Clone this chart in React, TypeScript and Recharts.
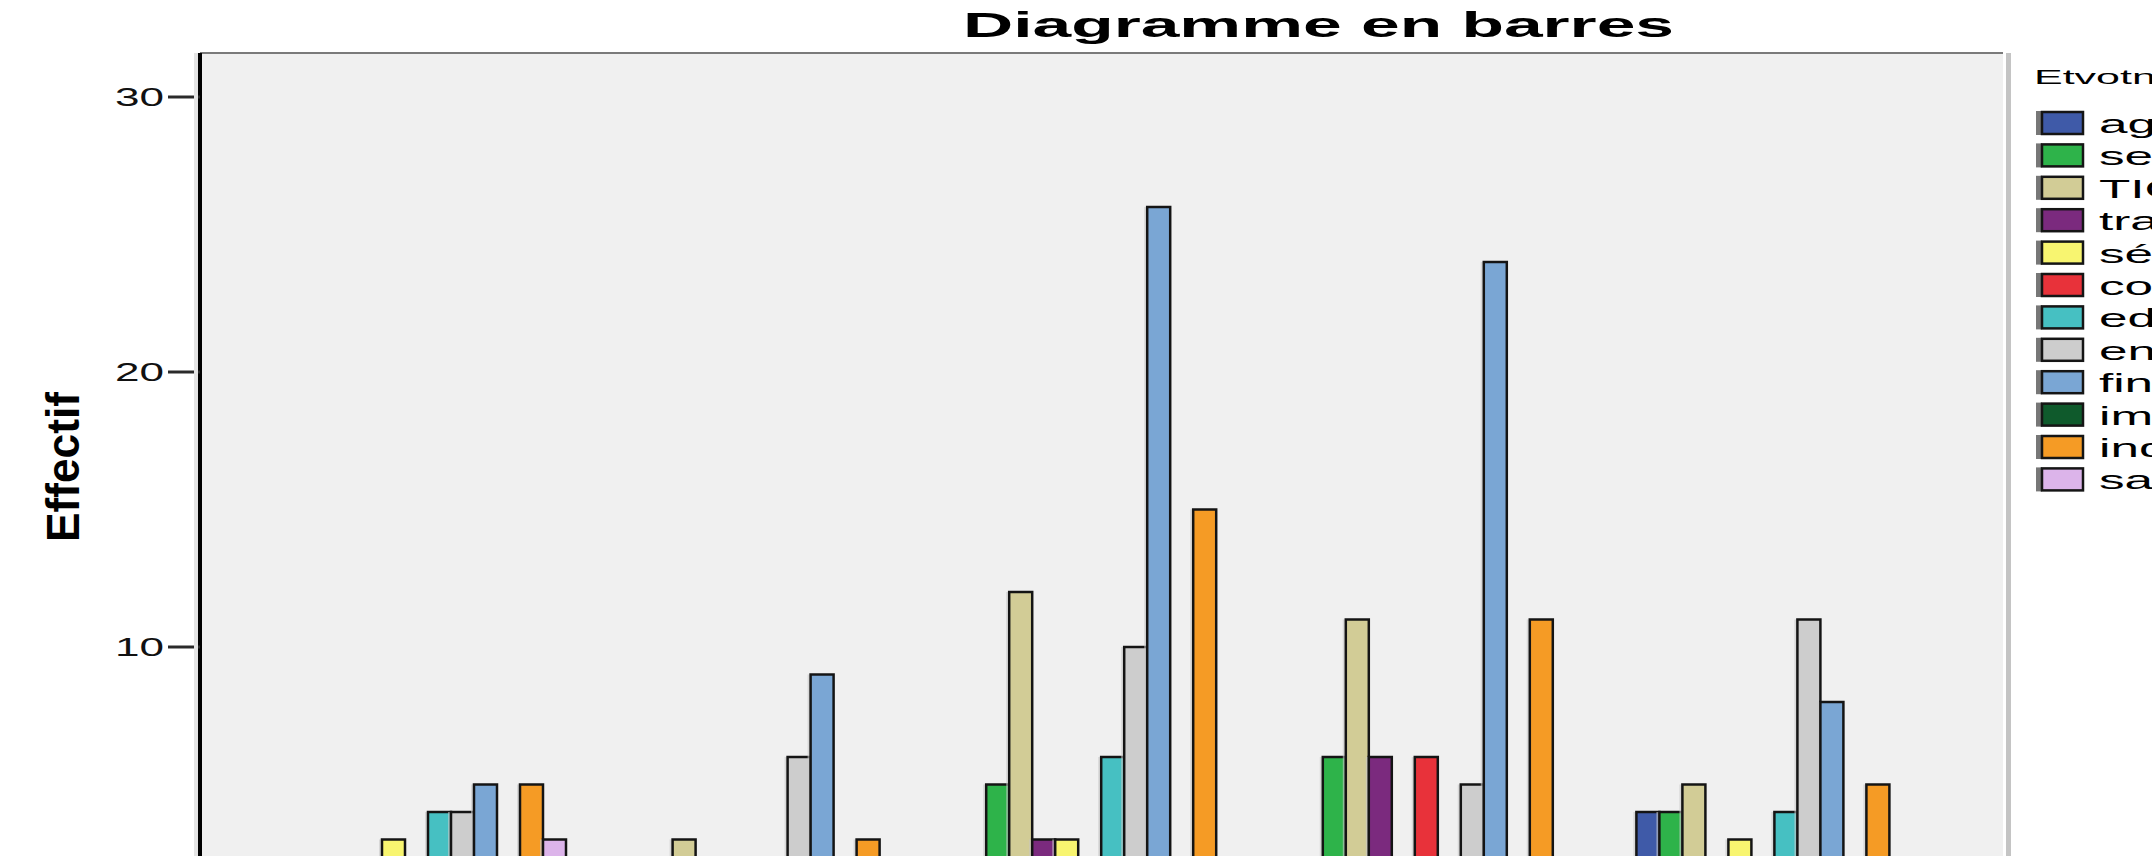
import { BarChart, Bar, XAxis, YAxis, CartesianGrid, ReferenceLine } from "recharts";

const categories = ["1", "2", "3", "4", "5"];

const seriesNames = [
  "agriculture",
  "services",
  "TIC",
  "transport",
  "sécurité",
  "commerce",
  "education",
  "energie",
  "finance",
  "immobilier",
  "industrie",
  "santé",
];

const seriesColors = [
  "#3f5aa8",
  "#2eb34a",
  "#d2cc96",
  "#7b2a7e",
  "#f8f570",
  "#e8323a",
  "#46c0c2",
  "#cdcdcd",
  "#7aa6d4",
  "#0f5a2c",
  "#f59b25",
  "#dcb4ea",
];

// effectifs par catégorie (valeurs sous 2.5 coupées dans l'image -> 0)
const agValues = [0, 0, 0, 0, 4];
const seValues = [0, 0, 5, 6, 4];
const ticValues = [0, 3, 12, 11, 5];
const traValues = [0, 0, 3, 6, 0];
const secValues = [3, 0, 3, 0, 3];
const coValues = [0, 0, 0, 6, 0];
const edValues = [4, 0, 6, 0, 4];
const enValues = [4, 6, 10, 5, 11];
const finValues = [5, 9, 26, 24, 8];
const immValues = [0, 0, 0, 0, 0];
const indValues = [5, 3, 15, 11, 5];
const saValues = [3, 0, 0, 0, 0];

const seriesValues = [
  agValues,
  seValues,
  ticValues,
  traValues,
  secValues,
  coValues,
  edValues,
  enValues,
  finValues,
  immValues,
  indValues,
  saValues,
];

const yTicks = [0, 10, 20, 30];
const Y_MAX = 31.6;

const data = categories.map((name, i) => {
  const row: Record<string, string | number> = { name };
  seriesValues.forEach((vals, s) => {
    row["s" + s] = vals[i];
  });
  return row;
});

const FONT = "'Liberation Sans', Arial, sans-serif";

function BevelBar(props: any) {
  const { x, y, width, height, fill } = props;
  if (!height || height <= 0) return null;
  return (
    <g>
      <rect x={x - 3} y={y} width={3} height={height} fill="#c8c8c8" opacity={0.6} />
      <rect
        x={x}
        y={y}
        width={width}
        height={height}
        fill={fill}
        stroke="#141414"
        strokeWidth={2.5}
      />
    </g>
  );
}

function YTick(props: any) {
  const { x, y, payload } = props;
  const label = String(payload.value);
  return (
    <text
      x={x}
      y={y + 9}
      textAnchor="end"
      fontFamily={FONT}
      fontSize={25}
      fill="#111"
      textLength={label.length * 24.5}
      lengthAdjust="spacingAndGlyphs"
    >
      {label}
    </text>
  );
}

export default function App() {
  return (
    <div
      style={{
        position: "fixed",
        left: 0,
        top: 0,
        width: 2152,
        height: 856,
        overflow: "hidden",
        background: "#fff",
      }}
    >
      <BarChart
        width={2152}
        height={1000}
        data={data}
        margin={{ top: 53, right: 149, bottom: 48, left: 100 }}
        barCategoryGap={30}
        barGap={0}
      >
        <CartesianGrid horizontal={false} vertical={false} fill="#f0f0f0" />
        <XAxis
          dataKey="name"
          padding={{ left: 60, right: 60 }}
          height={30}
          tickLine={false}
          axisLine={{ stroke: "#000", strokeWidth: 4 }}
          tick={false}
        />
        <YAxis
          domain={[0, Y_MAX]}
          ticks={yTicks}
          interval={0}
          width={100}
          tickSize={32}
          tickMargin={4}
          axisLine={{ stroke: "#000", strokeWidth: 4 }}
          tickLine={{ stroke: "#2a2a2a", strokeWidth: 3 }}
          tick={<YTick />}
          allowDataOverflow
        />
        <YAxis
          yAxisId="right"
          orientation="right"
          width={0}
          domain={[0, Y_MAX]}
          tick={false}
          tickLine={false}
          axisLine={{ stroke: "#444", strokeWidth: 3 }}
        />
        <ReferenceLine y={Y_MAX} stroke="#7a7a7a" strokeWidth={2} />
        {seriesNames.map((n, s) => (
          <Bar
            key={n}
            dataKey={"s" + s}
            name={n}
            fill={seriesColors[s]}
            shape={<BevelBar />}
            isAnimationActive={false}
          />
        ))}
      </BarChart>

      <svg
        width={2152}
        height={856}
        style={{ position: "absolute", left: 0, top: 0, pointerEvents: "none" }}
      >
        <rect x={2006} y={53} width={5} height={803} fill="#c4c4c4" />
        <rect x={194} y={53} width={4} height={803} fill="#e4e4e4" />
        <text
          x={963}
          y={37}
          fontFamily={FONT}
          fontWeight="bold"
          fontSize={35}
          fill="#000"
          textLength={711}
          lengthAdjust="spacingAndGlyphs"
        >
          Diagramme en barres
        </text>
        <text
          transform="translate(79, 467) rotate(-90)"
          textAnchor="middle"
          fontFamily={FONT}
          fontWeight="bold"
          fontSize={46}
          fill="#000"
          textLength={150}
          lengthAdjust="spacingAndGlyphs"
        >
          Effectif
        </text>
        <text
          transform="translate(2034, 84) scale(2.15, 1)"
          fontFamily={FONT}
          fontSize={20}
          fill="#000"
        >
          Etvotn
        </text>
        {seriesNames.map((n, s) => {
          const top = 111 + s * 32.4;
          return (
            <g key={n}>
              <rect x={2036} y={top} width={6} height={24} fill="#777" />
              <rect
                x={2042}
                y={top + 1}
                width={41}
                height={22}
                fill={seriesColors[s]}
                stroke="#151515"
                strokeWidth={2.5}
              />
              <text
                transform={`translate(2099, ${top + 22}) scale(2.05, 1)`}
                fontFamily={FONT}
                fontSize={25}
                fill="#000"
              >
                {n}
              </text>
            </g>
          );
        })}
      </svg>
    </div>
  );
}
